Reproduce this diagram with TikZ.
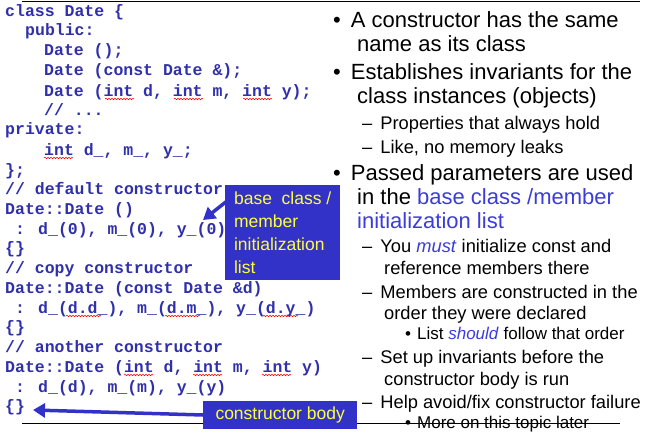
\documentclass[tikz,border=0pt]{standalone}
\usepackage{fontspec}
\setmainfont{Liberation Sans}
\newfontfamily\codefont{Liberation Mono}
\usetikzlibrary{arrows.meta,decorations.pathmorphing}
\definecolor{codeblue}{RGB}{48,48,170}
\definecolor{boxblue}{RGB}{50,50,200}
\definecolor{hlblue}{RGB}{60,60,220}
\definecolor{yel}{RGB}{255,255,60}
\tikzset{
 code/.style={anchor=base west,inner sep=0pt,font=\codefont\bfseries\fontsize{16.5}{18}\selectfont,text=codeblue},
 lone/.style={anchor=base west,inner sep=0pt,font=\fontsize{22}{24}\selectfont},
 ltwo/.style={anchor=base west,inner sep=0pt,font=\fontsize{18.3}{20}\selectfont},
 lthree/.style={anchor=base west,inner sep=0pt,font=\fontsize{17}{18}\selectfont},
 callout/.style={fill=boxblue,text=yel,font=\fontsize{17.5}{23}\selectfont,align=left,inner xsep=6pt,inner ysep=4pt,anchor=north west},
 arr/.style={draw=boxblue,line width=3.5pt,-{Triangle[length=12pt,width=14pt]}},
 squig/.style={draw=red,line width=0.5pt,decorate,decoration={snake,amplitude=0.8pt,segment length=3pt}},
 rule/.style={draw=black,line width=1pt}
}
\begin{document}
\begin{tikzpicture}[x=1pt,y=-1pt]
\useasboundingbox (0,0) rectangle (647,433);
\coordinate (t1) at (22,2); \coordinate (t2) at (640,2);
\draw[rule] (t1) -- (t2);
\coordinate (b1) at (22,423); \coordinate (b2) at (620,423);
\draw[rule] (b1) -- (b2);
% code
\node[code] (c1) at (5,17) {class Date \{};
\node[code] (c2) at (25,36) {public:};
\node[code] (c3) at (44,56) {Date ();};
\node[code] (c4) at (44,76) {Date (const Date \&);};
\node[code] (c5) at (44,96) {Date (int d, int m, int y);};
\node[code] (c6) at (44,115) {// ...};
\node[code] (c7) at (5,135) {private:};
\node[code] (c8) at (44,155) {int d\_, m\_, y\_;};
\node[code] (c9) at (5,175) {\};};
\node[code] (c10) at (5,194) {// default constructor};
\node[code] (c11) at (5,214) {Date::Date ()};
\node[code] (c12) at (5,234) {\ : d\_(0), m\_(0), y\_(0)};
\node[code] (c13) at (5,253) {\{\}};
\node[code] (c14) at (5,273) {// copy constructor};
\node[code] (c15) at (5,293) {Date::Date (const Date \&d)};
\node[code] (c16) at (5,313) {\ : d\_(d.d\_), m\_(d.m\_), y\_(d.y\_)};
\node[code] (c17) at (5,332) {\{\}};
\node[code] (c18) at (5,352) {// another constructor};
\node[code] (c19) at (5,372) {Date::Date (int d, int m, int y)};
\node[code] (c20) at (5,392) {\ : d\_(d), m\_(m), y\_(y)};
\node[code] (c21) at (5,411) {\{\}};
% spelling squiggles
\foreach \a/\b/\y in {105/134/99, 174/203/99, 243/272/99, 44/73/158, 124/153/375, 193/222/375, 262/291/375, 66/101/316, 165/200/316, 263/298/316}
  \draw[squig] (\a,\y) -- (\b,\y);
% right side
\node[lone] (r1) at (333,28) {\textbullet\hspace{10pt}A constructor has the same};
\node[lone] (r2) at (357,52) {name as its class};
\node[lone] (r3) at (333,80) {\textbullet\hspace{10pt}Establishes invariants for the};
\node[lone] (r4) at (357,104) {class instances (objects)};
\node[ltwo] (r5) at (362,129) {–\hspace{8pt}Properties that always hold};
\node[ltwo] (r6) at (362,153) {–\hspace{8pt}Like, no memory leaks};
\node[lone] (r7) at (333,180) {\textbullet\hspace{10pt}Passed parameters are used};
\node[lone] (r8) at (357,204) {in the \textcolor{hlblue}{base class /member}};
\node[lone] (r9) at (357,228) {\textcolor{hlblue}{initialization list}};
\node[ltwo] (r10) at (362,252) {–\hspace{8pt}You \textcolor{hlblue}{\textit{must}} initialize const and};
\node[ltwo] (r11) at (384,274) {reference members there};
\node[ltwo] (r12) at (362,298) {–\hspace{8pt}Members are constructed in the};
\node[ltwo] (r13) at (384,319) {order they were declared};
\node[lthree] (r14) at (405,339) {\textbullet\hspace{6pt}List \textcolor{hlblue}{\textit{should}} follow that order};
\node[ltwo] (r15) at (362,363) {–\hspace{8pt}Set up invariants before the};
\node[ltwo] (r16) at (384,385) {constructor body is run};
\node[ltwo] (r17) at (362,408) {–\hspace{8pt}Help avoid/fix constructor failure};
\node[lthree] (r18) at (405,428) {\textbullet\hspace{6pt}More on this topic later};
% callouts
\node[callout,minimum width=115pt,minimum height=95pt] (k1) at (225,185) {base\ \ class /\\member\\initialization\\list};
\coordinate (k1s) at (227,201);
\coordinate (k1a) at (203,220);
\draw[arr] (k1s) -- (k1a);
\node[callout,minimum width=154pt,minimum height=28pt,anchor=west] (k2) at (203,415) {constructor body};
\coordinate (k2a) at (33,410);
\draw[arr] (k2.west) -- (k2a);
\end{tikzpicture}
\end{document}
